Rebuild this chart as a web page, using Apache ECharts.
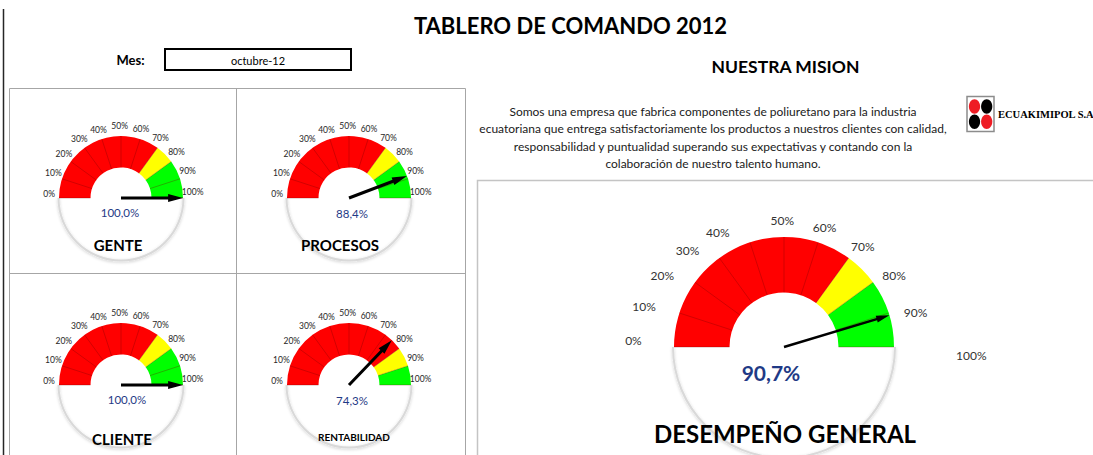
<!DOCTYPE html>
<html>
<head>
<meta charset="utf-8">
<title>Tablero de Comando 2012</title>
<script src="https://cdn.jsdelivr.net/npm/echarts@6/dist/echarts.min.js"></script>
<style>
  html, body { margin: 0; padding: 0; background: #ffffff; }
  #board { width: 1093px; height: 455px; }
</style>
</head>
<body>
<div id="board"></div>
<script>
// ---- indicator data ----
const indicators = ['GENTE', 'PROCESOS', 'CLIENTE', 'RENTABILIDAD'];
const values = [100.0, 88.4, 100.0, 74.3];
const redLimits = [70, 70, 70, 80];      // red band ends here
const yellowLimits = [80, 80, 80, 90];   // yellow band ends here, green up to 100

const generalName = 'DESEMPEÑO GENERAL';
const generalValue = 90.7;
const generalRedLimit = 70;
const generalYellowLimit = 80;

const tickLabels = ['0%', '10%', '20%', '30%', '40%', '50%', '60%', '70%', '80%', '90%', '100%'];

const monthLabel = 'octubre-12';
const missionLines = [
  'Somos una empresa que fabrica componentes de poliuretano para la industria',
  'ecuatoriana que entrega satisfactoriamente los productos a nuestros clientes con calidad,',
  'responsabilidad y puntualidad superando sus expectativas y contando con la',
  'colaboración de nuestro talento humano.'
];

// ---- styling / layout ----
const FONT = 'Lato, "Open Sans", sans-serif';
const RED = '#ff0000', YELLOW = '#ffff00', GREEN = '#00ff00';
const VALUE_BLUE = '#1f3a86';

const smallLayout = [
  { center: [121, 198], detail: [-1, 14], title: [-3, 47], titleSize: 15 },
  { center: [349, 198], detail: [3, 15], title: [-9, 47], titleSize: 15 },
  { center: [121, 385], detail: [6, 14], title: [1, 54], titleSize: 15 },
  { center: [349, 385], detail: [3, 15], title: [5, 52], titleSize: 10 }
];
const SMALL_R = 62, SMALL_W = 31.5;
const BIG_CENTER = [784, 347], BIG_R = 110, BIG_W = 55.5;

const fmtValue = v => v.toFixed(1).replace('.', ',') + '%';
const tickText = v => tickLabels[Math.round(v / 10)];

function arrowPath(headFrac, shaftFrac) {
  const h = headFrac * 100, a = 50 + shaftFrac * 50, b = 50 - shaftFrac * 50;
  return 'path://M50,0 L100,' + h + ' L' + a + ',' + h + ' L' + a + ',100 L' + b + ',100 L' + b + ',' + h + ' L0,' + h + ' Z';
}

function hiddenParts() {
  return {
    pointer: { show: false },
    anchor: { show: false },
    progress: { show: false },
    title: { show: false },
    detail: { show: false }
  };
}

// banded dial with needle, value and name
function dial(opt) {
  return {
    type: 'gauge',
    z: 3,
    center: opt.center,
    radius: opt.radius,
    startAngle: 180,
    endAngle: 0,
    min: 0,
    max: 100,
    splitNumber: 10,
    axisLine: {
      lineStyle: {
        width: opt.width,
        color: [[opt.red / 100, RED], [opt.yellow / 100, YELLOW], [1, GREEN]]
      }
    },
    splitLine: {
      show: true,
      length: opt.width,
      distance: -opt.width,
      lineStyle: { color: 'rgba(110,0,0,0.3)', width: 1 }
    },
    axisTick: { show: false },
    axisLabel: { show: false },
    progress: { show: false },
    anchor: { show: false },
    pointer: {
      show: true,
      icon: arrowPath(opt.head, opt.shaft),
      length: '100%',
      width: opt.pointerWidth,
      offsetCenter: [0, 0],
      itemStyle: { color: '#000000' }
    },
    title: {
      show: true,
      offsetCenter: opt.titleOffset,
      color: '#000000',
      fontFamily: FONT,
      fontWeight: 'bold',
      fontSize: opt.titleSize
    },
    detail: {
      show: true,
      offsetCenter: opt.detailOffset,
      color: VALUE_BLUE,
      fontFamily: FONT,
      fontWeight: opt.detailWeight,
      fontSize: opt.detailSize,
      formatter: fmtValue
    },
    data: [{ value: opt.value, name: opt.name }]
  };
}

// lower half rim under each dial
function rim(center, radius) {
  return Object.assign({
    type: 'gauge',
    z: 1,
    center: center,
    radius: radius,
    startAngle: 0,
    endAngle: -180,
    axisLine: {
      lineStyle: {
        width: 2,
        color: [[1, '#d9d9d9']],
        shadowColor: 'rgba(0,0,0,0.2)',
        shadowBlur: 3,
        shadowOffsetY: 1
      }
    },
    splitLine: { show: false },
    axisTick: { show: false },
    axisLabel: { show: false },
    data: [{ value: 0 }]
  }, hiddenParts());
}

// ring of percentage labels around a dial
function labelRing(o) {
  return Object.assign({
    type: 'gauge',
    z: 2,
    center: o.center,
    radius: o.radius,
    startAngle: o.start,
    endAngle: o.end,
    min: o.min,
    max: o.max,
    splitNumber: o.split,
    axisLine: { show: false },
    splitLine: { show: false, length: 0, distance: 0 },
    axisTick: { show: false },
    axisLabel: {
      show: true,
      distance: 0,
      rotate: 0.01,
      color: o.color,
      fontFamily: FONT,
      fontSize: o.fontSize,
      formatter: o.formatter || tickText
    },
    data: [{ value: o.min }]
  }, hiddenParts());
}

const series = [];

indicators.forEach((name, i) => {
  const L = smallLayout[i];
  series.push(rim(L.center, SMALL_R + 1.5));
  series.push(labelRing({
    center: L.center, radius: 72, start: 176.8, end: 5.2,
    min: 0, max: 100, split: 10, fontSize: 8.5, color: '#262626'
  }));
  series.push(dial({
    center: L.center, radius: SMALL_R, width: SMALL_W,
    red: redLimits[i], yellow: yellowLimits[i],
    value: values[i], name: name,
    head: 0.24, shaft: 0.38, pointerWidth: 8,
    titleOffset: L.title, titleSize: L.titleSize,
    detailOffset: L.detail, detailSize: 11.5, detailWeight: 'normal'
  }));
});

// general performance dial
const ringCenter = [BIG_CENTER[0] - 5, BIG_CENTER[1] + 20];
series.push(rim(BIG_CENTER, BIG_R + 2));
series.push(labelRing({ center: ringCenter, radius: 148, start: 169.5, end: 114.4, min: 0, max: 40, split: 4, fontSize: 12, color: '#333333' }));
series.push(labelRing({ center: ringCenter, radius: 147, start: 88.7, end: 21.7, min: 50, max: 90, split: 4, fontSize: 12, color: '#333333' }));
series.push(labelRing({
  center: BIG_CENTER, radius: 187.6, start: 180, end: -2.7, min: 0, max: 100, split: 1, fontSize: 12, color: '#333333',
  formatter: v => (v === 100 ? tickText(v) : '')
}));
series.push(dial({
  center: BIG_CENTER, radius: BIG_R, width: BIG_W,
  red: generalRedLimit, yellow: generalYellowLimit,
  value: generalValue, name: generalName,
  head: 0.12, shaft: 0.36, pointerWidth: 7,
  titleOffset: [1, 86], titleSize: 24,
  detailOffset: [-13, 25], detailSize: 21, detailWeight: 'bold'
}));

// sheet frames, headings and logo
const graphics = [
  { type: 'line', shape: { x1: 3.5, y1: 9, x2: 3.5, y2: 455 }, style: { stroke: '#262626', lineWidth: 1.5 } },
  { type: 'rect', shape: { x: 9.5, y: 88.5, width: 456, height: 400 }, style: { fill: 'none', stroke: '#a6a6a6', lineWidth: 1 } },
  { type: 'line', shape: { x1: 236.5, y1: 88.5, x2: 236.5, y2: 455 }, style: { stroke: '#a6a6a6', lineWidth: 1 } },
  { type: 'line', shape: { x1: 9.5, y1: 273.5, x2: 465.5, y2: 273.5 }, style: { stroke: '#a6a6a6', lineWidth: 1 } },
  { type: 'rect', shape: { x: 477.5, y: 180.5, width: 700, height: 400 }, style: { fill: 'none', stroke: '#c4c4c4', lineWidth: 1.5 } },

  { type: 'text', x: 570.5, y: 25, style: { text: 'TABLERO DE COMANDO 2012', align: 'center', verticalAlign: 'middle', fill: '#000', fontFamily: FONT, fontWeight: 'bold', fontSize: 22 } },
  { type: 'text', x: 130.5, y: 60, style: { text: 'Mes:', align: 'center', verticalAlign: 'middle', fill: '#000', fontFamily: FONT, fontWeight: 'bold', fontSize: 13 } },
  { type: 'rect', shape: { x: 165, y: 49, width: 186, height: 21 }, style: { fill: '#fff', stroke: '#000', lineWidth: 2 } },
  { type: 'text', x: 258, y: 60, style: { text: monthLabel, align: 'center', verticalAlign: 'middle', fill: '#000', fontFamily: FONT, fontSize: 11 } },

  { type: 'text', x: 785.5, y: 66, style: { text: 'NUESTRA MISION', align: 'center', verticalAlign: 'middle', fill: '#000', fontFamily: FONT, fontWeight: 'bold', fontSize: 17.5 } },
  { type: 'text', x: 713, y: 137.5, style: { text: missionLines.join('\n'), align: 'center', verticalAlign: 'middle', lineHeight: 17.5, fill: '#1a1a1a', fontFamily: FONT, fontSize: 12 } },

  { type: 'rect', shape: { x: 967, y: 96.5, width: 27, height: 35 }, style: { fill: '#fff', stroke: '#8c8c8c', lineWidth: 1.5 } },
  { type: 'ellipse', shape: { cx: 974.5, cy: 106.5, rx: 5.6, ry: 7.2 }, style: { fill: '#ee1c24' } },
  { type: 'ellipse', shape: { cx: 986.7, cy: 106.5, rx: 5.6, ry: 7.2 }, style: { fill: '#000' } },
  { type: 'ellipse', shape: { cx: 974.5, cy: 121.8, rx: 5.6, ry: 7.2 }, style: { fill: '#000' } },
  { type: 'ellipse', shape: { cx: 986.7, cy: 121.8, rx: 5.6, ry: 7.2 }, style: { fill: '#ee1c24' } },
  { type: 'text', x: 998, y: 114, style: { text: 'ECUAKIMIPOL S.A', align: 'left', verticalAlign: 'middle', fill: '#000', fontFamily: '"Liberation Serif", "DejaVu Serif", serif', fontWeight: 'bold', fontSize: 10.5 } }
];

const chart = echarts.init(document.getElementById('board'), null, { renderer: 'svg' });
chart.setOption({
  animation: false,
  backgroundColor: '#ffffff',
  graphic: { elements: graphics },
  series: series
});
</script>
</body>
</html>
